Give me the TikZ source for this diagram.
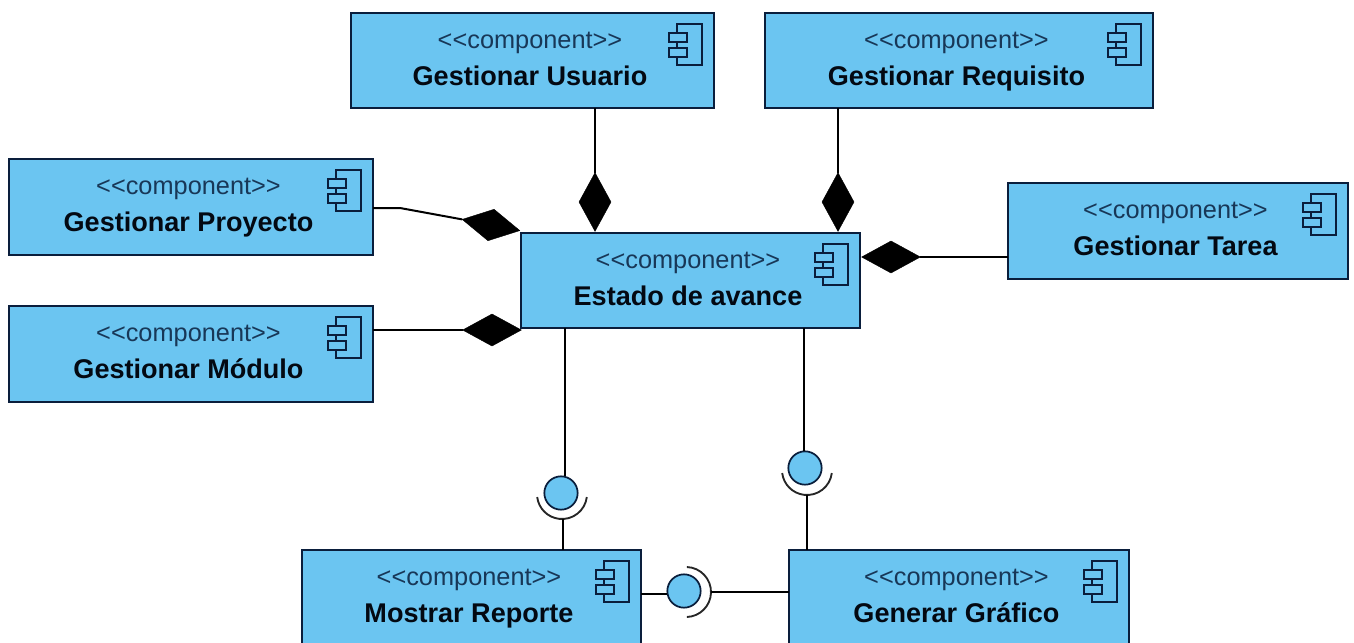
\documentclass[tikz,border=0pt]{standalone}
\usepackage{fontspec}
\setmainfont{Liberation Sans}
\usetikzlibrary{shapes.geometric,calc}
\definecolor{compfill}{RGB}{107,197,241}
\definecolor{compline}{RGB}{10,30,60}
\tikzset{
 x=0.75pt,y=-0.75pt,
 compbox/.style={draw=compline,line width=1.5pt,fill=compfill,inner sep=0pt,outer sep=0pt,rectangle},
 stereo/.style={font=\fontsize{19}{19}\selectfont,text=compline!85!compfill,inner sep=0pt,anchor=base},
 compname/.style={font=\fontsize{20.3}{20}\selectfont\bfseries,text=black!70!compline,inner sep=0pt,anchor=base},
 icon/.style={draw=compline,line width=1pt,fill=compfill},
 link/.style={draw=black,line width=1.5pt},
 compo/.style={diamond,fill=black,draw=black,line width=0.3pt,inner sep=0pt,outer sep=0pt},
 compoh/.style={compo,minimum width=44pt,minimum height=24pt},
 compov/.style={compo,minimum width=24pt,minimum height=44pt},
 ball/.style={circle,draw=compline,line width=1.3pt,fill=compfill,inner sep=0pt,outer sep=0pt,minimum size=25pt},
 socket/.style={draw=black!85,line width=1.4pt},
}
% #1 name, #2 x1, #3 y1, #4 x2, #5 y2, #6 label
\newcommand{\compnode}[6]{%
 \node[compbox,minimum width={(#4-#2)*0.75pt},minimum height={(#5-#3)*0.75pt}] (#1) at ({(#2+#4)/2},{(#3+#5)/2}) {};
 \node[stereo] (#1s) at ({(#2+#4)/2-2.5},{#3+35}) {<{}<component>{}>};
 \node[compname] (#1n) at ({(#2+#4)/2-2.5},{#3+72}) {#6};
 \begin{scope}[shift={({#4-47},{#3+11})}]
  \draw[icon] (10,0) rectangle (35,41);
  \draw[icon] (2,9) rectangle (20,18);
  \draw[icon] (2,24) rectangle (20,33);
 \end{scope}
}
\begin{document}
\begin{tikzpicture}
\useasboundingbox (0,0) rectangle (1354,643);
\clip (0,0) rectangle (1354,643);
\compnode{usuario}{351}{13}{714}{108}{Gestionar Usuario}
\compnode{requisito}{765}{13}{1153}{108}{Gestionar Requisito}
\compnode{proyecto}{9}{159}{373}{255}{Gestionar Proyecto}
\compnode{modulo}{9}{306}{373}{402}{Gestionar Módulo}
\compnode{estado}{521}{233}{860}{328}{Estado de avance}
\compnode{tarea}{1008}{183}{1348}{279}{Gestionar Tarea}
\compnode{mostrar}{302}{550}{641}{646}{Mostrar Reporte}
\compnode{generar}{789}{550}{1129}{646}{Generar Gráfico}
% composition diamonds
\node[compov] (dU) at (595,202) {};
\node[compov] (dR) at (838,202) {};
\node[compoh] (dT) at (891,257) {};
\node[compoh] (dM) at (492,330) {};
\node[compoh,rotate=-11] (dP) at (491,225) {};
\draw[link] (usuario.south -| dU.north) -- (dU.north);
\draw[link] (requisito.south -| dR.north) -- (dR.north);
\draw[link] (tarea.west |- dT.east) -- (dT.east);
\draw[link] (modulo.east |- dM.west) -- (dM.west);
\coordinate (bend) at (400,208);
\draw[link] (proyecto.east |- bend) -- (bend) -- (dP.west);
% lollipops
\node[ball] (b1) at (561,493) {};
\node[ball] (b2) at (805,468) {};
\node[ball] (b3) at (684,591) {};
\draw[link] (estado.south -| 565,0) -- ($(b1.north)+(4,0)$);
\draw[link] (estado.south -| 804,0) -- ($(b2.north)+(-1,0)$);
\draw[link] (mostrar.east |- 0,594) -- (b3.west |- 0,594);
% sockets
\coordinate (s1) at (562,494);
\coordinate (s2) at (807,470);
\coordinate (s3) at (686,592);
\draw[socket] (s1) ++(7:25) arc[start angle=7,end angle=173,radius=25];
\draw[socket] (s2) ++(7:25) arc[start angle=7,end angle=173,radius=25];
\draw[socket] (s3) ++(-88:25) arc[start angle=-88,end angle=88,radius=25];
\coordinate (s1b) at (563,519);
\coordinate (s2b) at (807,495);
\coordinate (s3b) at (711,592);
\draw[link] (s1b) -- (mostrar.north -| s1b);
\draw[link] (s2b) -- (generar.north -| s2b);
\draw[link] (s3b) -- (generar.west |- s3b);
\end{tikzpicture}
\end{document}
